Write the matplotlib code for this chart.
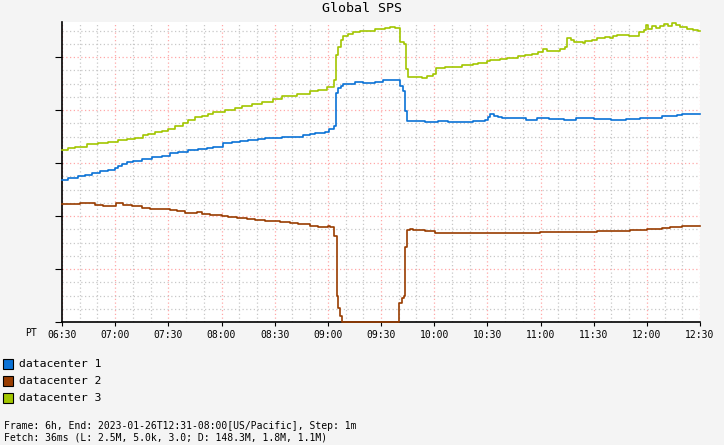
import matplotlib.pyplot as plt
from matplotlib.patches import Rectangle

# minutes since 06:30 PT, values in units of one major gridline
dc1_t = [0, 3.6, 9.2, 13, 16.7, 21.4, 26.1, 29.9, 31.8, 33.7, 36.5, 40.3, 45, 50.6, 56.3,
         60.9, 65.6, 71.3, 76.9, 81.6, 85.4, 91, 95.8, 100.4, 105.1, 110.8, 114.6, 120.2,
         124, 136.2, 140, 142.8, 148.4, 150.9, 153.7, 154.6, 155.9, 157.3, 158.8, 165.3,
         170, 176.6, 181, 190.7, 192.2, 193.6, 194.9, 200, 205, 212, 218, 225, 232,
         238.7, 240.2, 241.3, 244, 245.9, 248.1, 262, 268, 275, 283, 290, 300, 310, 318,
         326, 330.8, 338.4, 346.9, 350, 357.2, 360]
dc1_v = [2.68, 2.72, 2.75, 2.77, 2.81, 2.85, 2.87, 2.91, 2.95, 2.99, 3.02, 3.04, 3.08, 3.11, 3.14,
         3.18, 3.21, 3.24, 3.26, 3.28, 3.30, 3.38, 3.40, 3.41, 3.43, 3.45, 3.48, 3.47,
         3.49, 3.52, 3.54, 3.57, 3.59, 3.64, 3.70, 4.33, 4.42, 4.46, 4.50, 4.52,
         4.51, 4.53, 4.56, 4.45, 4.36, 3.99, 3.80, 3.79, 3.78, 3.79, 3.77, 3.78, 3.79,
         3.81, 3.87, 3.92, 3.89, 3.87, 3.84, 3.82, 3.84, 3.83, 3.82, 3.84, 3.83, 3.82, 3.83,
         3.84, 3.85, 3.88, 3.90, 3.92, 3.93, 3.92]

dc2_t = [0, 10.2, 16.4, 18.6, 23.3, 27.1, 30.3, 34.6, 39.3, 45, 49.7, 55.3, 60.9, 64.7,
         69.4, 76, 78.8, 83.5, 90.1, 93.9, 98.6, 104.2, 108.9, 114.6, 123, 128.7, 133.4,
         140, 144.6, 150.3, 151.5, 153.7, 155, 155.9, 157, 158.2, 190.3, 191.7, 193,
         193.7, 194.9, 196.4, 198.2, 204.8, 210.5, 212.4, 240, 269.7, 297, 301.7, 320.5,
         329.9, 338.4, 343.1, 349.7, 354.4, 357, 360]
dc2_v = [2.23, 2.24, 2.25, 2.21, 2.19, 2.18, 2.24, 2.21, 2.19, 2.16, 2.14, 2.13, 2.11, 2.09,
         2.06, 2.08, 2.04, 2.01, 2.00, 1.98, 1.96, 1.94, 1.92, 1.90, 1.88, 1.87, 1.84,
         1.82, 1.80, 1.82, 1.80, 1.63, 0.50, 0.26, 0.11, 0.0, 0.35, 0.45, 0.50,
         1.41, 1.74, 1.75, 1.73, 1.71, 1.67, 1.68, 1.67, 1.69, 1.70, 1.71, 1.74,
         1.75, 1.77, 1.79, 1.81, 1.82, 1.81, 1.81]

dc3_t = [0, 3.6, 7.3, 13.9, 17.7, 20.5, 26.1, 31.8, 36.5, 41.2, 45.9, 48.7, 52.5, 56.3,
         60, 63.8, 68.5, 71.3, 75.1, 78.8, 82.6, 85.4, 92, 97.6, 101.4, 107, 112.7, 119.2,
         124, 132.4, 140, 144.6, 149.4, 153.7, 154.6, 155.9, 157.3, 158.4, 161.6, 164.4,
         168.2, 171.9, 176.6, 182.3, 185.1, 187.9, 190.7, 193, 194, 195.1, 203, 205.8,
         209.5, 210.9, 216.1, 219.9, 225.5, 232.1, 234.9, 239.7, 241.5, 247.2, 250.9,
         257.5, 261.3, 265, 268.8, 271.6, 273.5, 281, 283.8, 285, 287.2, 289.1, 294.2,
         295.1, 298.9, 301.7, 306.4, 309.2, 311.1, 313, 320, 325.6, 328.6, 329.5, 330.8,
         332.7, 335, 337.4, 339.9, 342.1, 344.4, 346.3, 348.8, 352.5, 356.3, 359.1, 360]
dc3_v = [3.25, 3.28, 3.31, 3.36, 3.35, 3.38, 3.40, 3.43, 3.45, 3.48, 3.53, 3.55, 3.58, 3.61,
         3.65, 3.70, 3.75, 3.81, 3.87, 3.89, 3.92, 3.96, 4.00, 4.04, 4.08, 4.12, 4.16, 4.20,
         4.26, 4.30, 4.35, 4.38, 4.43, 4.56, 5.03, 5.19, 5.32, 5.40, 5.43, 5.47,
         5.49, 5.50, 5.52, 5.55, 5.57, 5.54, 5.29, 5.24, 4.77, 4.63, 4.60, 4.64,
         4.67, 4.79, 4.81, 4.82, 4.84, 4.87, 4.89, 4.92, 4.94, 4.96, 4.99,
         5.01, 5.04, 5.05, 5.10, 5.15, 5.12, 5.15, 5.18, 5.35, 5.33, 5.28, 5.26,
         5.30, 5.33, 5.35, 5.37, 5.35, 5.40, 5.42, 5.40, 5.47, 5.51, 5.60, 5.52,
         5.58, 5.54, 5.58, 5.63, 5.58, 5.64, 5.60, 5.57, 5.53, 5.51, 5.49, 5.49]

names = ['datacenter 1', 'datacenter 2', 'datacenter 3']
colors = ['#0a72d6', '#983c00', '#a2c600']
tick_labels = ['06:30', '07:00', '07:30', '08:00', '08:30', '09:00', '09:30',
               '10:00', '10:30', '11:00', '11:30', '12:00', '12:30']

W, H = 724, 445
plt.rcParams['font.family'] = 'DejaVu Sans Mono'
fig = plt.figure(figsize=(W / 100, H / 100), dpi=100, facecolor='#f4f4f4')
ax = fig.add_axes([62 / W, 1 - 322 / H, 638 / W, 300 / H])
ax.set_facecolor('white')

for t, v, c in zip([dc1_t, dc2_t, dc3_t], [dc1_v, dc2_v, dc3_v], colors):
    ax.plot(t, v, drawstyle='steps-post', color=c, lw=1.2, clip_on=False, zorder=3)

ax.set_xlim(0, 360)
ax.set_ylim(0, 300 / 53)
ax.set_xticks(range(0, 361, 30))
ax.set_xticklabels(tick_labels, fontsize=7)
ax.set_xticks(range(0, 361, 10), minor=True)
ax.set_yticks(range(0, 6))
ax.set_yticks([i * 0.25 for i in range(23)], minor=True)
ax.set_yticklabels([])
ax.tick_params(axis='x', which='major', length=3, pad=3, color='black')
ax.tick_params(axis='y', which='major', length=5, color='black')
ax.tick_params(which='minor', length=0)
ax.grid(which='minor', color='#c8c8c8', linestyle=(0, (1, 2)), lw=0.9)
ax.grid(which='major', color='#ffa8a8', linestyle=(0, (1, 2)), lw=0.9)
ax.set_axisbelow(True)
for s in ['top', 'right']:
    ax.spines[s].set_visible(False)
ax.spines['left'].set_linewidth(1.2)
ax.spines['bottom'].set_linewidth(1.2)

fig.text(362 / W, 1 - 9 / H, 'Global SPS', ha='center', va='center', fontsize=9.5)
fig.text(25 / W, 1 - 333 / H, 'PT', ha='left', va='center', fontsize=7)

for i, (n, c) in enumerate(zip(names, colors)):
    yc = 364 + i * 17
    fig.add_artist(Rectangle((3 / W, 1 - (yc + 5) / H), 10 / W, 10 / H,
                             transform=fig.transFigure, facecolor=c, edgecolor='black', lw=0.8))
    fig.text(19 / W, 1 - yc / H, n, ha='left', va='center', fontsize=8.2)

fig.text(4 / W, 1 - 426 / H, 'Frame: 6h, End: 2023-01-26T12:31-08:00[US/Pacific], Step: 1m',
         ha='left', va='center', fontsize=7)
fig.text(4 / W, 1 - 437 / H, 'Fetch: 36ms (L: 2.5M, 5.0k, 3.0; D: 148.3M, 1.8M, 1.1M)',
         ha='left', va='center', fontsize=7)

fig.savefig('out.png', dpi=100, facecolor=fig.get_facecolor())
